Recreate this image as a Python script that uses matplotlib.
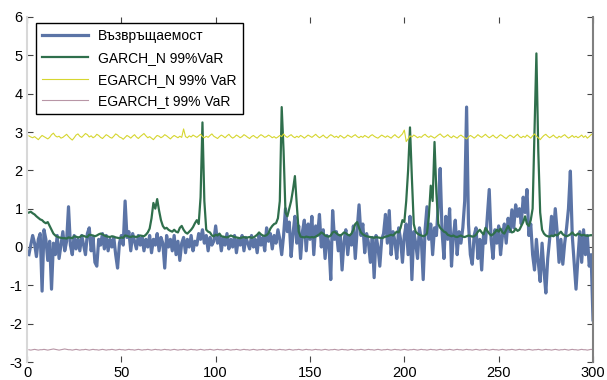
import numpy as np
import matplotlib.pyplot as plt

# =========================
# DATA
# =========================
returns = [
    -0.20, 0.05, 0.30, 0.10, -0.25, 0.20, 0.35, -1.15, 0.45, 0.20,
    -0.35, 0.15, -1.10, 0.10, -0.20, 0.30, -0.30, 0.05, 0.40, -0.10,
    0.15, 1.05, 0.05, -0.20, 0.30, -0.05, 0.20, -0.10, 0.30, 0.05,
    -0.20, 0.35, 0.50, -0.10, 0.25, -0.40, -0.50, 0.20, 0.05, 0.35,
    -0.05, 0.30, -0.10, 0.20, 0.00, 0.25, -0.20, -0.55, 0.10, 0.30,
    0.05, 1.20, 0.25, 0.40, -0.10, 0.35, 0.15, -0.05, 0.30, 0.05,
    0.25, -0.10, 0.20, 0.00, 0.30, -0.15, 0.20, 0.05, 0.35, -0.10,
    0.25, 0.10, -0.55, 0.30, 0.00, 0.20, -0.10, 0.30, -0.20, 0.15,
    -0.35, 0.10, 0.25, -0.15, 0.20, 0.00, 0.30, -0.10, 0.15, 0.05,
    0.35, 0.20, 0.45, 0.10, 0.30, -0.10, 0.25, 0.05, 0.15, 0.55,
    0.10, 0.30, -0.10, 0.25, 0.05, 0.35, -0.05, 0.20, 0.00, 0.30,
    -0.15, 0.20, 0.05, 0.30, -0.10, 0.25, 0.10, -0.05, 0.30, 0.00,
    0.20, -0.15, 0.30, 0.05, 0.25, -0.10, 0.50, 0.15, 0.35, -0.05,
    0.30, 0.10, 0.45, 0.20, -0.20, 0.30, 1.00, 0.40, 0.65, -0.25,
    0.35, 0.80, 0.10, 0.55, -0.30, 0.40, 0.70, -0.10, 0.60, 0.20,
    0.80, -0.20, 0.55, 0.30, 0.85, 0.00, 0.45, -0.30, 0.30, 0.10,
    -0.85, 0.95, 0.20, 0.40, -0.10, 0.30, -0.60, 0.15, 0.45, -0.20,
    0.30, 0.05, 0.55, -0.30, 0.45, 1.10, 0.30, 0.60, -0.15, 0.35,
    0.10, -0.40, 0.25, -0.80, 0.30, 0.00, -0.50, 0.20, 0.35, 0.85,
    0.10, 0.95, -0.20, 0.40, 0.15, -0.30, 0.50, 0.20, -0.40, 0.30,
    0.60, -0.20, 0.80, -0.85, 0.40, 0.10, -0.30, 0.50, 0.20, -0.85,
    0.45, 1.05, 0.20, 0.60, -0.20, 0.50, 0.30, 1.10, 2.05, 0.40,
    -0.30, 0.80, 0.20, 1.00, -0.50, 0.30, 0.70, -0.20, 0.40, 0.10,
    0.50, 1.20, 3.65, 0.60, -0.20, -0.45, 0.30, 0.50, -0.30, 0.20,
    -0.60, 0.35, 0.10, 0.80, 1.50, 0.20, -0.30, 0.45, 0.10, 0.55,
    -0.20, 0.30, 0.60, 0.10, 0.75, 0.40, 0.97, 0.50, 1.10, 0.80,
    1.00, 0.60, 1.30, 0.90, 1.50, 0.30, 0.60, -0.20, -0.60, 0.20,
    -0.40, -0.90, 0.10, -0.60, -1.20, -0.30, 0.20, 0.80, 0.30, 1.00,
    0.40, -0.40, 0.20, -0.45, 0.10, 0.50, 1.00, 1.98, 0.30, -0.40,
    -1.10, -0.30, 0.40, -0.40, 0.45, -0.20, 0.30, -0.50, -0.20, -1.90,
]

garch_n = [
    0.90, 0.92, 0.88, 0.85, 0.80, 0.76, 0.72, 0.70, 0.65, 0.62,
    0.65, 0.55, 0.45, 0.35, 0.30, 0.27, 0.25, 0.24, 0.23, 0.23,
    0.22, 0.25, 0.24, 0.23, 0.28, 0.27, 0.25, 0.26, 0.30, 0.29,
    0.27, 0.26, 0.32, 0.31, 0.30, 0.28, 0.30, 0.33, 0.35, 0.33,
    0.30, 0.28, 0.27, 0.26, 0.28, 0.27, 0.25, 0.24, 0.23, 0.25,
    0.24, 0.30, 0.29, 0.27, 0.26, 0.28, 0.27, 0.26, 0.28, 0.30,
    0.29, 0.28, 0.32, 0.38, 0.48, 0.75, 1.15, 1.00, 1.25, 0.95,
    0.70, 0.55, 0.48, 0.50, 0.45, 0.42, 0.40, 0.45, 0.40, 0.38,
    0.50, 0.55, 0.45, 0.38, 0.35, 0.40, 0.45, 0.52, 0.62, 0.70,
    0.60, 1.30, 3.25, 1.20, 0.45, 0.40, 0.38, 0.30, 0.28, 0.32,
    0.30, 0.35, 0.28, 0.27, 0.26, 0.25, 0.27, 0.30, 0.28, 0.26,
    0.25, 0.24, 0.23, 0.25, 0.26, 0.24, 0.25, 0.26, 0.24, 0.25,
    0.28, 0.32, 0.38, 0.33, 0.30, 0.29, 0.31, 0.36, 0.48, 0.55,
    0.60, 0.62, 0.75, 1.20, 3.65, 2.50, 0.90, 0.80, 1.00, 1.20,
    1.50, 1.85, 1.10, 0.40, 0.27, 0.26, 0.25, 0.27, 0.26, 0.25,
    0.26, 0.25, 0.27, 0.30, 0.33, 0.38, 0.35, 0.30, 0.28, 0.27,
    0.30, 0.38, 0.40, 0.36, 0.32, 0.30, 0.33, 0.38, 0.36, 0.32,
    0.30, 0.35, 0.45, 0.60, 0.65, 0.50, 0.38, 0.33, 0.30, 0.28,
    0.27, 0.26, 0.25, 0.24, 0.26, 0.25, 0.24, 0.23, 0.25, 0.27,
    0.28, 0.30, 0.32, 0.30, 0.35, 0.40, 0.38, 0.50, 0.70, 0.65,
    1.20, 2.00, 3.12, 1.80, 0.60, 0.40, 0.35, 0.32, 0.30, 0.28,
    0.30, 0.35, 0.80, 1.60, 1.20, 2.74, 1.40, 0.60, 0.50, 0.45,
    0.40, 0.38, 0.32, 0.30, 0.28, 0.30, 0.27, 0.26, 0.28, 0.30,
    0.27, 0.26, 0.28, 0.30, 0.29, 0.27, 0.28, 0.32, 0.40, 0.45,
    0.38, 0.33, 0.50, 0.42, 0.35, 0.30, 0.33, 0.38, 0.45, 0.40,
    0.48, 0.38, 0.35, 0.45, 0.55, 0.45, 0.38, 0.40, 0.48, 0.42,
    0.45, 0.55, 0.65, 0.80, 0.60, 0.55, 0.70, 1.00, 3.00, 5.05,
    2.50, 0.90, 0.45, 0.35, 0.30, 0.28, 0.27, 0.30, 0.28, 0.32,
    0.30, 0.35, 0.40, 0.33, 0.30, 0.28, 0.30, 0.33, 0.38, 0.32,
    0.30, 0.35, 0.33, 0.30, 0.32, 0.30, 0.29, 0.30, 0.31, 0.30,
]

egarch_n = [
    2.90, 2.87, 2.85, 2.88, 2.84, 2.80, 2.86, 2.91, 2.88, 2.85,
    2.82, 2.86, 2.93, 2.97, 2.90, 2.87, 2.89, 2.84, 2.86, 2.90,
    2.94, 2.88, 2.83, 2.79, 2.85, 2.92, 2.95, 2.89, 2.86, 2.91,
    2.96, 2.93, 2.87, 2.90, 2.85, 2.88, 2.94, 2.91, 2.86, 2.83,
    2.88, 2.93, 2.90, 2.86, 2.84, 2.89, 2.95, 2.92, 2.87, 2.85,
    2.81, 2.86, 2.91, 2.88, 2.84, 2.89, 2.93, 2.87, 2.83, 2.88,
    2.92, 2.96, 2.90, 2.85, 2.88, 2.84, 2.80, 2.86, 2.91, 2.89,
    2.85, 2.88, 2.93, 2.90, 2.86, 2.82, 2.87, 2.91, 2.88, 2.85,
    2.89, 2.86, 3.08, 2.88, 2.85, 2.90, 2.87, 2.92, 2.89, 2.86,
    2.90, 2.94, 2.88, 2.85, 2.89, 2.86, 2.91, 2.95, 2.89, 2.86,
    2.83, 2.88, 2.92, 2.89, 2.85, 2.90, 2.94, 2.88, 2.84, 2.87,
    2.92, 2.89, 2.85, 2.88, 2.93, 2.90, 2.86, 2.83, 2.88, 2.91,
    2.87, 2.84, 2.89, 2.93, 2.90, 2.86, 2.88, 2.92, 2.89, 2.85,
    2.88, 2.84, 2.87, 2.91, 2.88, 2.95, 2.89, 2.86, 2.90, 2.93,
    2.88, 2.85, 2.89, 2.86, 2.91, 2.88, 2.84, 2.88, 2.92, 2.89,
    2.86, 2.90, 2.94, 2.89, 2.85, 2.88, 2.92, 2.87, 2.84, 2.89,
    2.93, 2.90, 2.86, 2.89, 2.85, 2.91, 2.88, 2.84, 2.87, 2.92,
    2.89, 2.86, 2.90, 2.93, 2.88, 2.85, 2.89, 2.86, 2.91, 2.88,
    2.85, 2.90, 2.93, 2.89, 2.86, 2.84, 2.88, 2.92, 2.89, 2.86,
    2.90, 2.87, 2.84, 2.89, 2.93, 2.88, 2.85, 2.90, 2.95, 3.05,
    2.75, 2.82, 2.90, 2.87, 2.92, 2.89, 2.85, 2.88, 2.86, 2.91,
    2.94, 2.89, 2.86, 2.90, 2.87, 2.84, 2.88, 2.92, 2.95, 2.90,
    2.86, 2.89, 2.93, 2.88, 2.85, 2.90, 2.87, 2.84, 2.89, 2.92,
    2.88, 2.85, 2.82, 2.87, 2.91, 2.88, 2.84, 2.88, 2.93, 2.89,
    2.86, 2.90, 2.94, 2.89, 2.85, 2.88, 2.92, 2.87, 2.84, 2.89,
    2.93, 2.90, 2.86, 2.83, 2.88, 2.92, 2.89, 2.85, 2.90, 2.94,
    2.88, 2.85, 2.89, 2.86, 2.92, 2.88, 2.84, 2.90, 2.95, 2.89,
    2.85, 2.80, 2.86, 2.91, 2.94, 2.89, 2.85, 2.88, 2.92, 2.87,
    2.84, 2.89, 2.86, 2.90, 2.93, 2.88, 2.84, 2.87, 2.91, 2.86,
    2.89, 2.85, 2.88, 2.92, 2.86, 2.90, 2.84, 2.88, 2.93, 2.96,
]

egarch_t = [
    -2.68, -2.69, -2.68, -2.67, -2.68, -2.69, -2.68, -2.68, -2.67, -2.68,
    -2.69, -2.68, -2.67, -2.66, -2.67, -2.68, -2.69, -2.68, -2.67, -2.66,
    -2.67, -2.68, -2.68, -2.69, -2.68, -2.67, -2.68, -2.69, -2.68, -2.68,
    -2.67, -2.68, -2.69, -2.68, -2.67, -2.68, -2.68, -2.69, -2.68, -2.67,
    -2.68, -2.69, -2.68, -2.68, -2.67, -2.68, -2.69, -2.68, -2.67, -2.68,
    -2.68, -2.69, -2.68, -2.67, -2.68, -2.68, -2.69, -2.68, -2.67, -2.68,
    -2.69, -2.68, -2.68, -2.67, -2.68, -2.69, -2.68, -2.67, -2.68, -2.68,
    -2.69, -2.68, -2.67, -2.68, -2.68, -2.69, -2.68, -2.67, -2.68, -2.69,
    -2.68, -2.68, -2.67, -2.68, -2.69, -2.68, -2.67, -2.68, -2.68, -2.69,
    -2.68, -2.67, -2.68, -2.69, -2.68, -2.68, -2.67, -2.68, -2.69, -2.68,
    -2.67, -2.68, -2.68, -2.69, -2.68, -2.67, -2.68, -2.69, -2.68, -2.68,
    -2.67, -2.68, -2.69, -2.68, -2.67, -2.68, -2.68, -2.69, -2.68, -2.67,
    -2.68, -2.69, -2.68, -2.68, -2.67, -2.68, -2.69, -2.68, -2.67, -2.68,
    -2.68, -2.69, -2.68, -2.67, -2.68, -2.68, -2.69, -2.68, -2.67, -2.68,
    -2.69, -2.68, -2.68, -2.67, -2.68, -2.69, -2.68, -2.67, -2.68, -2.68,
    -2.69, -2.68, -2.67, -2.68, -2.68, -2.69, -2.68, -2.67, -2.68, -2.69,
    -2.68, -2.68, -2.67, -2.68, -2.69, -2.68, -2.67, -2.68, -2.68, -2.69,
    -2.68, -2.67, -2.68, -2.69, -2.68, -2.68, -2.67, -2.68, -2.69, -2.68,
    -2.67, -2.68, -2.68, -2.69, -2.68, -2.67, -2.68, -2.69, -2.68, -2.68,
    -2.67, -2.68, -2.69, -2.68, -2.67, -2.68, -2.68, -2.69, -2.68, -2.67,
    -2.68, -2.69, -2.68, -2.68, -2.67, -2.68, -2.69, -2.68, -2.67, -2.68,
    -2.68, -2.69, -2.68, -2.67, -2.68, -2.68, -2.69, -2.68, -2.67, -2.68,
    -2.69, -2.68, -2.68, -2.67, -2.68, -2.69, -2.68, -2.67, -2.68, -2.68,
    -2.69, -2.68, -2.67, -2.68, -2.68, -2.69, -2.68, -2.67, -2.68, -2.69,
    -2.68, -2.68, -2.67, -2.68, -2.69, -2.68, -2.67, -2.68, -2.68, -2.69,
    -2.68, -2.67, -2.68, -2.69, -2.68, -2.68, -2.67, -2.68, -2.69, -2.68,
    -2.67, -2.68, -2.68, -2.69, -2.68, -2.67, -2.68, -2.69, -2.68, -2.68,
    -2.67, -2.68, -2.69, -2.68, -2.67, -2.68, -2.68, -2.69, -2.68, -2.67,
    -2.68, -2.69, -2.68, -2.68, -2.67, -2.68, -2.69, -2.68, -2.67, -2.68,
    -2.68, -2.69, -2.68, -2.67, -2.68, -2.68, -2.69, -2.68, -2.67, -2.68,
]

labels = ["Възвръщаемост", "GARCH_N 99%VaR", "EGARCH_N 99% VaR", "EGARCH_t 99% VaR"]
colors = ["#5b74a6", "#2f6f4c", "#d6d630", "#b896a6"]
widths = [2.3, 1.6, 0.8, 0.8]

# =========================
# PLOT
# =========================
plt.rcParams["font.family"] = ["Liberation Sans", "DejaVu Sans"]
plt.rcParams["axes.unicode_minus"] = False

fig = plt.figure(figsize=(6.07, 3.80), dpi=100)
ax = fig.add_axes([27 / 607, 18 / 380, 566 / 607, 345 / 380])

for series, lab, col, lw in zip([returns, garch_n, egarch_n, egarch_t], labels, colors, widths):
    x = np.arange(1, len(series) + 1)
    ax.plot(x, series, color=col, linewidth=lw, label=lab)

ax.set_xlim(0, 300)
ax.set_ylim(-3, 6)
ax.set_xticks(np.arange(0, 301, 50))
ax.set_yticks(np.arange(-3, 7, 1))

ax.spines["top"].set_visible(False)
ax.spines["bottom"].set_visible(False)
ax.spines["left"].set_color("#d8d8d8")
ax.spines["left"].set_linewidth(1.5)
ax.spines["right"].set_color("#808080")
ax.spines["right"].set_linewidth(1.5)
ax.tick_params(direction="in", length=4, width=0.8, color="#444444",
               top=True, right=True, labelsize=10.5, pad=3)

ax.legend(loc="upper left", bbox_to_anchor=(9 / 566, 1 - 6 / 345), borderaxespad=0,
          fontsize=10, handlelength=3.3, labelspacing=0.55, fancybox=False,
          edgecolor="black", framealpha=1, borderpad=0.45, handletextpad=0.7)

fig.savefig("out.png", dpi=100)
